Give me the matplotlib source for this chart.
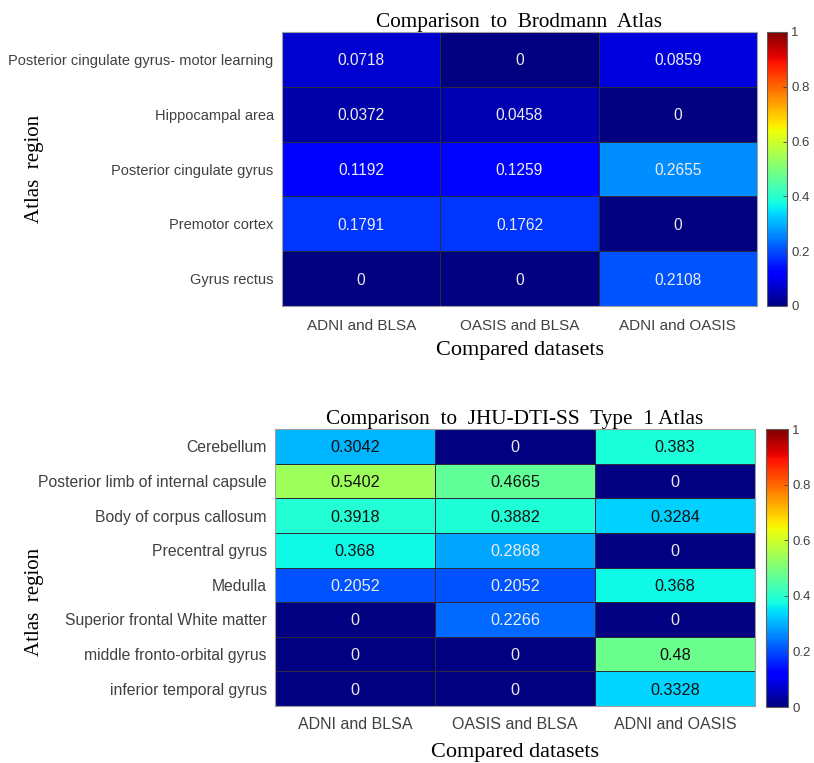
import numpy as np
import matplotlib
matplotlib.use("Agg")
import matplotlib.pyplot as plt

columns = ["ADNI and BLSA", "OASIS and BLSA", "ADNI and OASIS"]

brod_regions = ["Posterior cingulate gyrus- motor learning", "Hippocampal area",
                "Posterior cingulate gyrus", "Premotor cortex", "Gyrus rectus"]
brod_adni_blsa = [0.0718, 0.0372, 0.1192, 0.1791, 0]
brod_oasis_blsa = [0, 0.0458, 0.1259, 0.1762, 0]
brod_adni_oasis = [0.0859, 0, 0.2655, 0, 0.2108]

jhu_regions = ["Cerebellum", "Posterior limb of internal capsule", "Body of corpus callosum",
               "Precentral gyrus", "Medulla", "Superior frontal White matter",
               "middle fronto-orbital gyrus", "inferior temporal gyrus"]
jhu_adni_blsa = [0.3042, 0.5402, 0.3918, 0.368, 0.2052, 0, 0, 0]
jhu_oasis_blsa = [0, 0.4665, 0.3882, 0.2868, 0.2052, 0.2266, 0, 0]
jhu_adni_oasis = [0.383, 0, 0.3284, 0, 0.368, 0, 0.48, 0.3328]

cbar_ticks = [0, 0.2, 0.4, 0.6, 0.8, 1]
cbar_labels = ["0", "0.2", "0.4", "0.6", "0.8", "1"]

W, H = 814, 763
fig = plt.figure(figsize=(W / 100, H / 100), dpi=100)

SANS = "Liberation Sans"
SERIF = "Liberation Serif"
GRAY = "#404040"


def px(l, t, r, b):
    return [l / W, 1 - b / H, (r - l) / W, (b - t) / H]


def heatmap(ax_rect, cax_rect, regions, cols, title, fs_cell, fs_ytick, fs_xtick,
            title_pad, xtick_pad, xlab_pad):
    data = np.array(cols).T
    ax = fig.add_axes(px(*ax_rect))
    cax = fig.add_axes(px(*cax_rect))
    mesh = ax.pcolormesh(data, cmap="jet", vmin=0, vmax=1,
                         edgecolors="#2a2a3a", linewidth=0.4)
    ax.set_xlim(0, data.shape[1])
    ax.set_ylim(data.shape[0], 0)
    for i in range(data.shape[0]):
        for j in range(data.shape[1]):
            v = data[i, j]
            txt = f"{v:.4f}".rstrip("0").rstrip(".") if v != 0 else "0"
            c = "#111111" if v > 0.3 else "#ececec"
            ax.text(j + 0.5, i + 0.5, txt, ha="center", va="center_baseline",
                    fontsize=fs_cell, color=c, family=SANS)
    ax.set_xticks(np.arange(data.shape[1]) + 0.5)
    ax.set_xticklabels(columns, fontsize=fs_xtick, color=GRAY, family=SANS)
    ax.set_yticks(np.arange(data.shape[0]) + 0.5)
    ax.set_yticklabels(regions, fontsize=fs_ytick, color=GRAY, family=SANS)
    ax.tick_params(length=0, pad=6)
    ax.tick_params(axis="x", pad=xtick_pad)
    for s in ax.spines.values():
        s.set_color("#a0a0a0")
        s.set_linewidth(0.8)
    ax.set_title(title, fontsize=15.3, family=SERIF, color="black", pad=title_pad)
    ax.set_xlabel("Compared datasets", fontsize=16, family=SERIF, labelpad=xlab_pad)
    cb = fig.colorbar(mesh, cax=cax)
    cb.set_ticks(cbar_ticks)
    cb.set_ticklabels(cbar_labels)
    cax.tick_params(labelsize=9.5, colors=GRAY, length=3, direction="in", width=0.6, pad=3)
    for lab in cax.get_yticklabels():
        lab.set_family(SANS)
    cb.outline.set_edgecolor("#606060")
    cb.outline.set_linewidth(0.8)
    return ax


ax1 = heatmap((282, 32, 757, 306), (767, 32, 787, 306), brod_regions,
              [brod_adni_blsa, brod_oasis_blsa, brod_adni_oasis],
              "Comparison  to  Brodmann  Atlas", 11.2, 10.5, 11, 2, 9, 6)
ax2 = heatmap((275, 429, 755, 706), (766, 429, 788, 707), jhu_regions,
              [jhu_adni_blsa, jhu_oasis_blsa, jhu_adni_oasis],
              "Comparison  to  JHU-DTI-SS  Type  1 Atlas", 11.7, 11.3, 11.5, 2, 8, 8)

fig.text(34 / W, 1 - 169 / H, "Atlas  region", rotation=90, ha="center", va="center",
         fontsize=15, family=SERIF)
fig.text(34 / W, 1 - 602 / H, "Atlas  region", rotation=90, ha="center", va="center",
         fontsize=15, family=SERIF)

fig.savefig("out.png", dpi=100, facecolor="white")
